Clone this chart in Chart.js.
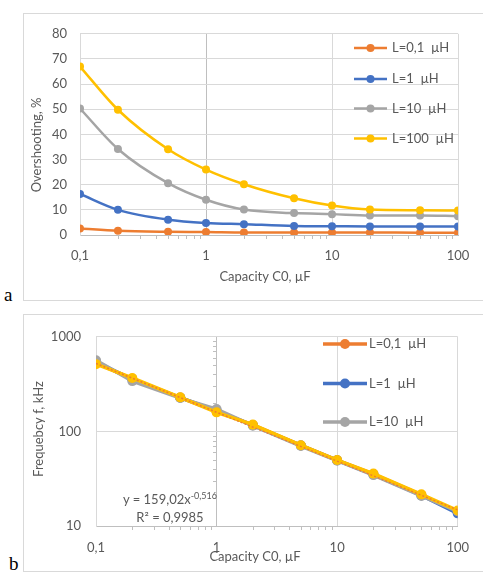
<!DOCTYPE html>
<html>
<head>
<meta charset="utf-8">
<script src="https://cdn.jsdelivr.net/npm/chart.js@4.4.1/dist/chart.umd.min.js"></script>
<style>
  html, body { margin: 0; padding: 0; background: #fff; overflow: hidden; }
  body { width: 483px; height: 572px; position: relative; font-family: Lato, sans-serif; }
  .frame { position: absolute; left: 23px; width: 490px; border: 1px solid #d9d9d9; box-sizing: border-box; }
  #frameA { top: 13px; height: 288px; }
  #frameB { top: 314px; height: 258px; }
  .box { position: absolute; left: 23px; width: 460px; }
  #boxA { top: 13px; height: 287px; }
  #boxB { top: 314px; height: 257px; }
  .tag { position: absolute; font-family: "Liberation Serif", "DejaVu Serif", serif; font-size: 19px; color: #000; line-height: 1; }
  #tagA { left: 4px; top: 285px; }
  #tagB { left: 9px; top: 554px; }
  #fit { position: absolute; left: 112px; top: 491px; width: 116px; text-align: center;
         font-size: 13px; line-height: 17px; color: #595959; }
  #fit sup { font-size: 9px; vertical-align: 0; position: relative; top: -5px; }
</style>
</head>
<body>
<div class="frame" id="frameA"></div>
<div class="frame" id="frameB"></div>
<div class="box" id="boxA"><canvas id="chartA"></canvas></div>
<div class="box" id="boxB"><canvas id="chartB"></canvas></div>
<div class="tag" id="tagA">a</div>
<div class="tag" id="tagB">b</div>
<div id="fit">y = 159,02x<sup>-0,516</sup><br>R² = 0,9985</div>
<script>
// capacity C0, µF (same points for every inductance)
const capacity = [0.1, 0.2, 0.5, 1, 2, 5, 10, 20, 50, 100];
const seriesLabels = ["L=0,1  µH", "L=1  µH", "L=10  µH", "L=100  µH"];
const seriesColors = ["#ED7D31", "#4472C4", "#A5A5A5", "#FFC000"];

// overshooting, %
const overshootL01 = [2.6, 1.7, 1.3, 1.2, 1.0, 1.0, 1.0, 1.0, 0.9, 0.9];
const overshootL1 = [16.3, 10.0, 6.1, 4.8, 4.3, 3.6, 3.5, 3.4, 3.4, 3.4];
const overshootL10 = [50.3, 34.2, 20.6, 14.0, 10.1, 8.7, 8.3, 7.8, 7.8, 7.5];
const overshootL100 = [67.0, 49.8, 34.1, 26.0, 20.2, 14.6, 11.7, 10.1, 9.8, 9.7];

// frequency f, kHz
const freqL01 = [530, 360, 228, 163, 117, 71, 49.6, 35.4, 21.3, 14.0];
const freqL1 = [545, 355, 227, 166, 116, 71, 49.5, 35.0, 21.0, 13.6];
const freqL10 = [565, 340, 225, 172, 115, 70, 49.0, 34.5, 20.8, 14.3];
const freqL100 = [514, 367, 229, 159, 118, 71.5, 49.8, 35.8, 21.6, 14.6];

// power trendline y = A·x^B
const fitA = 159.02;
const fitB = -0.516;

const xTicks = [0.1, 1, 10, 100];
const overshootTicks = [0, 10, 20, 30, 40, 50, 60, 70, 80];
const freqTicks = [10, 100, 1000];

Chart.defaults.font.family = "Lato, 'Open Sans', sans-serif";
Chart.defaults.font.size = 13;
Chart.defaults.color = "#595959";

const GRID = "#d9d9d9";
const AXIS = "#bfbfbf";
const comma = (v) => String(v).replace(".", ",");

// minor tick positions between the decades of a log axis
const minorTicks = (from, to) => {
  const out = [];
  for (let d = from; d < to; d *= 10) for (let k = 2; k <= 9; k++) out.push(+(d * k).toPrecision(3));
  return out;
};

const points = (ys) => capacity.map((c, i) => ({ x: c, y: ys[i] }));

function series(i, ys, width, radius) {
  return {
    label: seriesLabels[i], data: points(ys),
    borderColor: seriesColors[i], backgroundColor: seriesColors[i],
    pointBackgroundColor: seriesColors[i], pointBorderColor: seriesColors[i],
    borderWidth: width, pointRadius: radius, pointBorderWidth: 0,
    order: 4 - i,
  };
}

// minor ticks, axis titles and the legend rows drawn straight on the canvas
const decor = {
  id: "decor",
  afterDraw(chart, _args, o) {
    const { ctx, chartArea: a, scales: { x, y } } = chart;
    ctx.save();
    ctx.strokeStyle = AXIS;
    ctx.lineWidth = 1;
    ctx.beginPath();
    o.minorX.forEach((v) => {
      const px = Math.round(x.getPixelForValue(v)) + 0.5;
      ctx.moveTo(px, a.bottom); ctx.lineTo(px, a.bottom + 4);
    });
    (o.minorY || []).forEach((v) => {
      const py = Math.round(y.getPixelForValue(v)) + 0.5;
      const px = Math.round(x.getPixelForValue(o.yAxisAt));
      ctx.moveTo(px - 4, py); ctx.lineTo(px, py);
    });
    ctx.stroke();

    ctx.fillStyle = "#595959";
    ctx.font = "13px Lato, 'Open Sans', sans-serif";
    ctx.textAlign = "center";
    ctx.textBaseline = "middle";
    ctx.fillText(o.xTitle.text, o.xTitle.x, o.xTitle.y);
    ctx.save();
    ctx.translate(o.yTitle.x, o.yTitle.y);
    ctx.rotate(-Math.PI / 2);
    ctx.fillText(o.yTitle.text, 0, 0);
    ctx.restore();

    const L = o.legend;
    L.rows.forEach((idx, k) => {
      const ds = chart.data.datasets.find((d) => d.label === seriesLabels[idx]);
      const yy = L.y[k];
      ctx.strokeStyle = ds.borderColor;
      ctx.lineWidth = ds.borderWidth;
      ctx.beginPath(); ctx.moveTo(L.x0, yy); ctx.lineTo(L.x1, yy); ctx.stroke();
      ctx.fillStyle = ds.borderColor;
      ctx.beginPath(); ctx.arc((L.x0 + L.x1) / 2, yy, ds.pointRadius, 0, Math.PI * 2); ctx.fill();
      ctx.fillStyle = "#595959";
      ctx.textAlign = "left";
      ctx.fillText(ds.label, L.tx, yy);
    });
    ctx.restore();
  },
};

function xScale(padding) {
  return {
    type: "logarithmic", min: 0.1, max: 100,
    afterBuildTicks: (s) => { s.ticks = xTicks.map((v) => ({ value: v })); },
    grid: { color: (c) => (c.tick && c.tick.value === 1 ? AXIS : GRID), drawTicks: false },
    border: { color: AXIS },
    ticks: { autoSkip: false, maxRotation: 0, padding, callback: (v) => comma(v) },
  };
}

// a — overshooting
new Chart(document.getElementById("chartA"), {
  type: "line",
  data: {
    datasets: [
      series(0, overshootL01, 2.5, 4),
      series(1, overshootL1, 2.5, 4),
      series(2, overshootL10, 2.5, 4),
      series(3, overshootL100, 2.5, 4),
    ],
  },
  options: {
    responsive: true, maintainAspectRatio: false, animation: false,
    layout: { padding: { top: 17, right: 25, left: 0, bottom: 0 } },
    elements: { line: { cubicInterpolationMode: "monotone" } },
    plugins: {
      legend: { display: false }, tooltip: { enabled: false },
      decor: {
        minorX: minorTicks(0.1, 100),
        xTitle: { text: "Capacity C0, µF", x: 242, y: 264 },
        yTitle: { text: "Overshooting, %", x: 14, y: 132 },
        legend: { rows: [0, 1, 2, 3], x0: 331, x1: 364, tx: 369, y: [35, 66, 95.5, 125.5] },
      },
    },
    scales: {
      x: { ...xScale(13), afterFit: (s) => { s.height = 65; } },
      y: {
        min: 0, max: 80,
        afterBuildTicks: (s) => { s.ticks = overshootTicks.map((v) => ({ value: v })); },
        afterFit: (s) => { s.width = 57; },
        grid: { color: GRID, drawTicks: false },
        border: { color: GRID },
        ticks: { padding: 13 },
      },
    },
  },
  plugins: [decor],
});

// b — frequency with power trendline
new Chart(document.getElementById("chartB"), {
  type: "line",
  data: {
    datasets: [
      series(0, freqL01, 3.5, 5),
      series(1, freqL1, 3.5, 5),
      series(2, freqL10, 3.5, 5),
      series(3, freqL100, 3.5, 5),
      {
        label: "Power trend",
        data: [0.1, 100].map((c) => ({ x: c, y: fitA * Math.pow(c, fitB) })),
        borderColor: "#ED7D31", borderWidth: 1.5, borderDash: [2, 2],
        pointRadius: 0, order: 0,
      },
    ],
  },
  options: {
    responsive: true, maintainAspectRatio: false, animation: false,
    layout: { padding: { top: 16, right: 23, left: 0, bottom: 0 } },
    plugins: {
      legend: { display: false }, tooltip: { enabled: false },
      decor: {
        minorX: minorTicks(0.1, 100),
        minorY: minorTicks(10, 1000), yAxisAt: 1,
        xTitle: { text: "Capacity C0, µF", x: 232, y: 243 },
        yTitle: { text: "Frequebcy f, kHz", x: 16, y: 115 },
        legend: { rows: [0, 1, 2], x0: 300, x1: 344, tx: 346, y: [30, 69.5, 108] },
      },
    },
    scales: {
      x: { ...xScale(14), afterFit: (s) => { s.height = 45; } },
      y: {
        type: "logarithmic", min: 10, max: 1000,
        afterBuildTicks: (s) => { s.ticks = freqTicks.map((v) => ({ value: v })); },
        afterFit: (s) => { s.width = 73; },
        grid: { color: GRID, drawTicks: false },
        border: { color: GRID },
        ticks: { padding: 15, callback: (v) => String(v) },
      },
    },
  },
  plugins: [decor],
});
</script>
</body>
</html>
